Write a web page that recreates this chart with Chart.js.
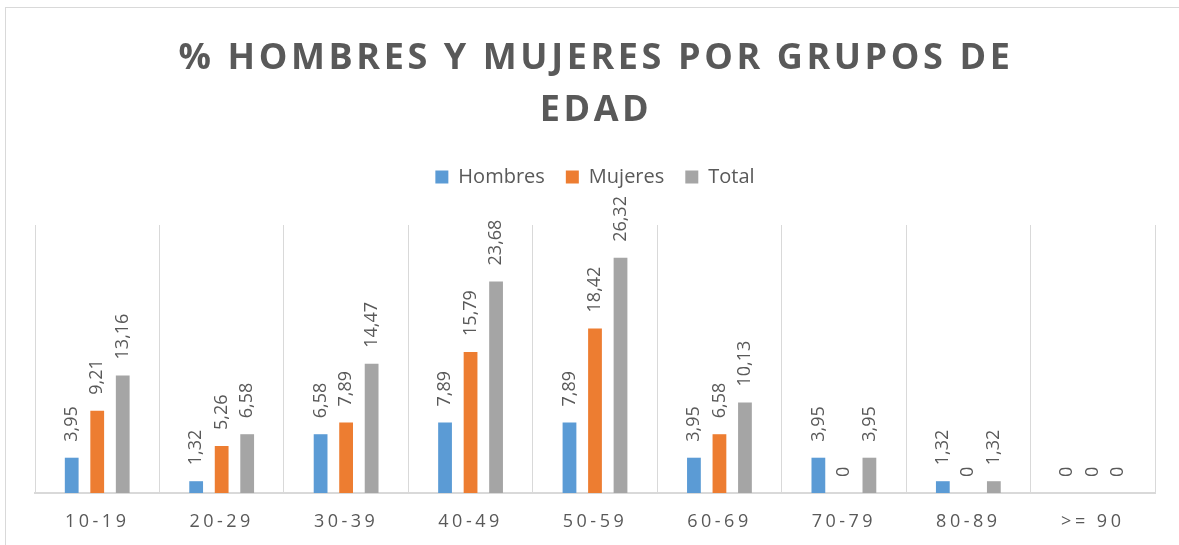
<!DOCTYPE html>
<html>
<head>
<meta charset="utf-8">
<script src="https://cdn.jsdelivr.net/npm/chart.js@4.4.1/dist/chart.umd.min.js"></script>
<style>
  html, body { margin: 0; padding: 0; background: #ffffff; }
  #wrap { position: relative; width: 1179px; height: 545px; overflow: hidden; }
  #frame { position: absolute; left: 5px; top: 7px; width: 1300px; height: 700px; border: 1px solid #d9d9d9; box-sizing: border-box; }
  canvas { position: absolute; left: 0; top: 0; }
</style>
</head>
<body>
<div id="wrap">
  <div id="frame"></div>
  <canvas id="c" width="1179" height="545"></canvas>
</div>
<script>
const categories = ['10-19', '20-29', '30-39', '40-49', '50-59', '60-69', '70-79', '80-89', '>= 90'];
const hombres = [3.95, 1.32, 6.58, 7.89, 7.89, 3.95, 3.95, 1.32, 0];
const mujeres = [9.21, 5.26, 7.89, 15.79, 18.42, 6.58, 0, 0, 0];
const total   = [13.16, 6.58, 14.47, 23.68, 26.32, 10.13, 3.95, 1.32, 0];
const titleLines = ['% HOMBRES Y MUJERES POR GRUPOS DE', 'EDAD'];
const seriesNames = ['Hombres', 'Mujeres', 'Total'];

const TEXT = '#595959';

const titlePlugin = {
  id: 'spacedTitle',
  afterDraw(chart) {
    const ctx = chart.ctx;
    ctx.save();
    ctx.font = 'bold 36px "Open Sans"';
    ctx.fillStyle = TEXT;
    ctx.textAlign = 'center';
    ctx.textBaseline = 'middle';
    ctx.letterSpacing = '3.6px';
    ctx.fillText(titleLines[0], 596, 59);
    ctx.fillText(titleLines[1], 596, 111);
    ctx.restore();
  }
};

const legendGap = {
  id: 'legendGap',
  afterInit(chart) {
    const lg = chart.legend;
    if (!lg) return;
    const fit = lg.fit;
    lg.fit = function () { fit.call(lg); this.height += 28; };
  }
};

const valueLabels = {
  id: 'valueLabels',
  afterDatasetsDraw(chart) {
    const ctx = chart.ctx;
    ctx.save();
    ctx.font = '18px "Open Sans"';
    ctx.fillStyle = TEXT;
    ctx.textAlign = 'left';
    ctx.textBaseline = 'middle';
    chart.data.datasets.forEach((ds, di) => {
      const meta = chart.getDatasetMeta(di);
      meta.data.forEach((el, i) => {
        const txt = String(ds.data[i]).replace('.', ',');
        ctx.save();
        ctx.translate(el.x, el.y - 16);
        ctx.rotate(-Math.PI / 2);
        ctx.fillText(txt, 0, 0);
        ctx.restore();
      });
    });
    ctx.restore();
    // letter spacing for the x tick labels drawn afterwards (ticks z:1)
    ctx.letterSpacing = '3.5px';
  },
  afterDraw(chart) {
    chart.ctx.letterSpacing = '0px';
  }
};

new Chart(document.getElementById('c'), {
  type: 'bar',
  data: {
    labels: categories,
    datasets: [
      { label: seriesNames[0], data: hombres, backgroundColor: '#5B9BD5' },
      { label: seriesNames[1], data: mujeres, backgroundColor: '#ED7D31' },
      { label: seriesNames[2], data: total, backgroundColor: '#A5A5A5' }
    ]
  },
  options: {
    responsive: false,
    animation: false,
    devicePixelRatio: 1,
    categoryPercentage: 0.615,
    barPercentage: 0.54,
    layout: { padding: { top: 146, left: 35, right: 24, bottom: 0 } },
    plugins: {
      title: { display: false },
      tooltip: { enabled: false },
      legend: {
        display: true,
        position: 'top',
        labels: {
          boxWidth: 13,
          boxHeight: 13,
          padding: 21,
          color: TEXT,
          font: { family: '"Open Sans"', size: 20 }
        }
      }
    },
    scales: {
      x: {
        afterFit(scale) { scale.height = 52; },
        grid: { display: true, offset: true, color: '#d9d9d9', lineWidth: 1, drawTicks: false },
        border: { display: true, color: '#d9d9d9', width: 2 },
        ticks: {
          z: 1,
          color: TEXT,
          padding: 18,
          autoSkip: false,
          maxRotation: 0,
          font: { family: '"Open Sans"', size: 18 }
        }
      },
      y: {
        display: false,
        min: 0,
        max: 30
      }
    }
  },
  plugins: [titlePlugin, legendGap, valueLabels]
});
</script>
</body>
</html>
